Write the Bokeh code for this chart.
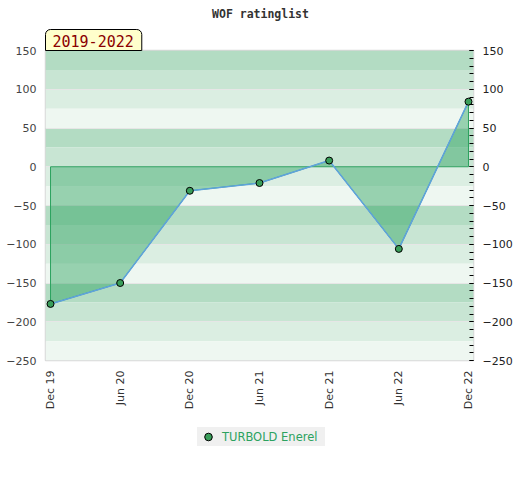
import math
from bokeh.plotting import figure
from bokeh.layouts import column
from bokeh.models import (Range1d, LinearAxis, FixedTicker, Title, Label, Legend, LegendItem)
from bokeh.embed import file_html
from bokeh.resources import INLINE

# ---- data ----
periods = ["Dec 19", "Jun 20", "Dec 20", "Jun 21", "Dec 21", "Jun 22", "Dec 22"]
ratings = [-177, -150, -31, -21, 8, -106, 84]
series_name = "TURBOLD Enerel"
title_text = "WOF ratinglist"
period_text = "2019-2022"
y_min, y_max = -250, 150
major_step = 50
minor_step = 10
band_step = 25
band_colors = ["#b3dcc3", "#c8e5d3", "#dbeee2", "#eef7f1"]

xs = list(range(len(periods)))
pad = 0.072
W = 515

# ---- title strip ----
t = figure(width=W, height=26, output_backend="svg", toolbar_location=None,
           x_range=Range1d(0, 1), y_range=Range1d(0, 1), min_border=0,
           x_axis_location=None, y_axis_location=None)
t.grid.visible = False
t.outline_line_color = None
t.add_layout(Label(x=215, y=13, x_units="screen", y_units="screen", text=title_text,
                   text_align="center", text_baseline="middle",
                   text_font="DejaVu Sans Mono", text_font_style="bold",
                   text_font_size="11.5px", text_color="#333333"))

# ---- main chart ----
p = figure(width=W, height=394, output_backend="svg", toolbar_location=None,
           x_range=Range1d(-pad, len(periods) - 1 + pad),
           y_range=Range1d(y_min, y_max),
           min_border_left=45, min_border_right=41, min_border_top=24, min_border_bottom=60)
p.background_fill_color = "white"
p.border_fill_color = "white"
p.outline_line_color = "#d8d8d8"
p.outline_line_width = 1.5

# background bands
band_tops = list(range(y_max, y_min, -band_step))
band_centers = [v - band_step / 2 for v in band_tops]
band_cols = [band_colors[i % 4] for i in range(len(band_tops))]
bands = p.hbar(y=band_centers, height=band_step, left=p.x_range.start - 1,
               right=p.x_range.end + 1, fill_color=band_cols, line_color=None)
bands.level = "image"

# grid
major_ticks = list(range(y_min, y_max + 1, major_step))
minor_ticks = list(range(y_min, y_max + 1, minor_step))
p.xgrid.visible = False
p.ygrid.ticker = FixedTicker(ticks=major_ticks)
p.ygrid.grid_line_color = "#e6e6e6"
p.ygrid.grid_line_width = 1

# area between series and zero
area_x = [xs[0]] + xs + [xs[-1]]
area_y = [0] + ratings + [0]
p.patch(area_x, area_y, fill_color="#2ca25f", fill_alpha=0.45,
        line_color="#2ca25f", line_width=1)

# data line and markers
marker_style = dict(size=7, fill_color="#3a9e5a", line_color="black", line_width=1)
p.line(xs, ratings, line_color="#5fa2dd", line_width=1.5)
p.scatter(xs, ratings, **marker_style)

# x axis
xa = p.xaxis[0]
xa.ticker = FixedTicker(ticks=xs)
xa.major_label_overrides = {i: lab for i, lab in enumerate(periods)}
xa.major_label_orientation = math.pi / 2
xa.major_tick_in = 0
xa.major_tick_out = 0
xa.minor_tick_in = 0
xa.minor_tick_out = 0
xa.axis_line_color = None
xa.major_label_standoff = 10
xa.major_label_text_font = "DejaVu Sans"
xa.major_label_text_font_size = "11px"
xa.major_label_text_color = "#333333"

# left y axis
ya = p.yaxis[0]
ya.ticker = FixedTicker(ticks=major_ticks)
ya.major_tick_in = 0
ya.major_tick_out = 0
ya.minor_tick_in = 0
ya.minor_tick_out = 0
ya.axis_line_color = None
ya.major_label_standoff = 9
ya.major_label_text_font = "DejaVu Sans"
ya.major_label_text_font_size = "11px"
ya.major_label_text_color = "#444444"

# right y axis
ra = LinearAxis(ticker=FixedTicker(ticks=major_ticks, minor_ticks=minor_ticks))
ra.major_tick_in = 4
ra.major_tick_out = 0
ra.minor_tick_in = 4
ra.minor_tick_out = 0
ra.major_tick_line_color = "black"
ra.minor_tick_line_color = "black"
ra.axis_line_color = None
ra.major_label_standoff = 9
ra.major_label_text_font = "DejaVu Sans"
ra.major_label_text_font_size = "11px"
ra.major_label_text_color = "#222222"
p.add_layout(ra, "right")

# period badge
badge = Title(text=period_text, align="left", offset=0, standoff=0,
              text_font="DejaVu Sans Mono", text_font_size="15px", text_color="#8b0000",
              text_font_style="normal",
              background_fill_color="#ffffcc", border_line_color="black",
              border_line_width=1, padding=dict(left=7, right=8, top=5, bottom=4),
              border_radius=dict(top_left=5, top_right=5, bottom_right=0, bottom_left=0))
p.add_layout(badge, "above")

# ---- legend strip ----
q = figure(width=W, height=52, output_backend="svg", toolbar_location=None,
           x_range=Range1d(0, 1), y_range=Range1d(0, 1), min_border=0)
q.axis.visible = False
q.grid.visible = False
q.outline_line_color = None
q.border_fill_color = "white"
q.background_fill_color = "white"
# legend swatch renderer (kept outside the strip's visible range)
sample = q.scatter([-1], [-1], **marker_style)
legend = Legend(items=[LegendItem(label=series_name, renderers=[sample])],
                location=(152, 26), orientation="horizontal",
                background_fill_color="#f0f0f0", background_fill_alpha=1,
                border_line_color=None, padding=0, margin=0, spacing=0,
                glyph_width=22, glyph_height=19, label_standoff=3, label_width=103,
                label_text_font="DejaVu Sans", label_text_font_size="11.5px",
                label_text_color="#2ca25f", label_height=19)
q.add_layout(legend, "center")

open("out.html", "w").write(file_html(column(t, p, q, spacing=0), INLINE))
